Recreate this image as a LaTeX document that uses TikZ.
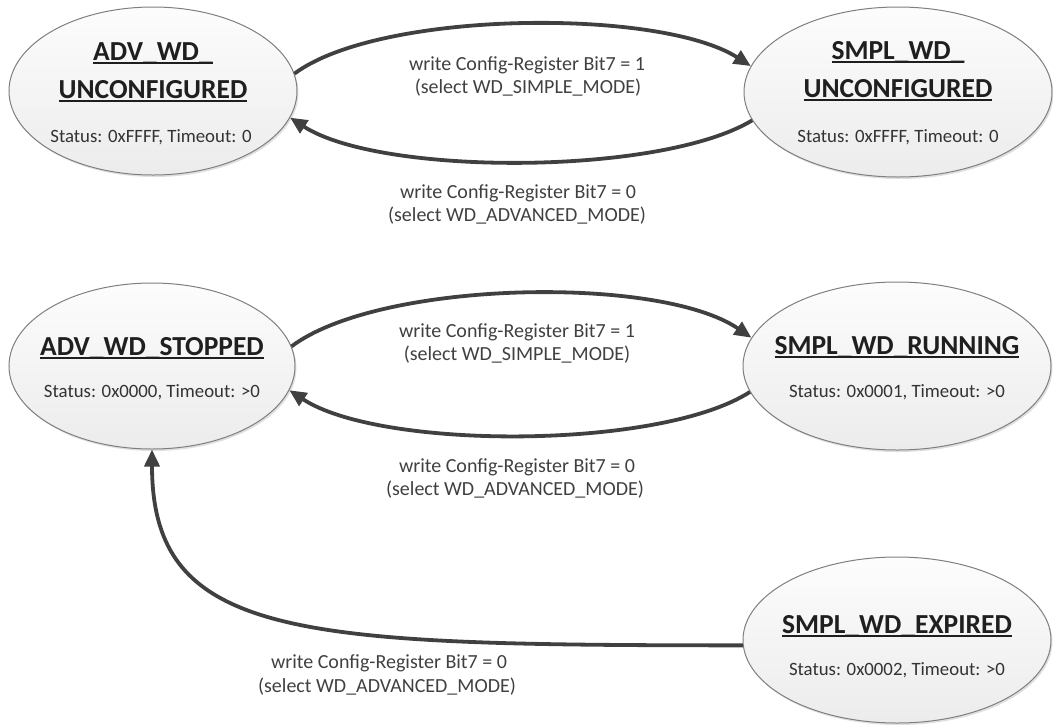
\documentclass[tikz,border=0pt]{standalone}
\usepackage{fontspec}
\setmainfont{Carlito}
\usetikzlibrary{arrows.meta,shapes.geometric,shadows}
\definecolor{arrowgray}{HTML}{404040}
\definecolor{edgegray}{HTML}{7F7F7F}
\newcommand\myul[1]{\setbox0\hbox{#1}\rlap{\rule[-4pt]{\wd0}{2pt}}\box0}
\begin{document}
\begin{tikzpicture}[x=1pt,y=-1pt,
  state/.style={ellipse, draw=edgegray, line width=1pt, top color=gray!2, bottom color=gray!15, inner sep=0pt,
    drop shadow={opacity=0.25,shadow xshift=1.5pt,shadow yshift=-2pt}},
  title/.style={font=\fontsize{27.5}{31}\selectfont\bfseries, text=black!88, anchor=base, inner sep=0pt},
  stat/.style={font=\fontsize{18.8}{23}\selectfont, text=black!80, anchor=base, inner sep=0pt},
  lbl/.style={font=\fontsize{20}{23}\selectfont, text=black!75, anchor=base, inner sep=0pt},
  trans/.style={draw=arrowgray, line width=3.8pt, -{Triangle[length=17pt,width=15pt]}}]
\useasboundingbox (0,0) rectangle (1053,724);

% states
\node[state, minimum width=288pt, minimum height=168pt] (A1) at (153,91) {};
\node[state, minimum width=308pt, minimum height=170pt] (A2) at (898,92) {};
\node[state, minimum width=286pt, minimum height=166pt] (A3) at (152,366) {};
\node[state, minimum width=308pt, minimum height=168pt] (A4) at (897,366) {};
\node[state, minimum width=308pt, minimum height=166pt] (A5) at (897,640) {};

% transitions
\draw[trans] (A1.7) .. controls (380,10) and (660,8) .. (A2.170);
\draw[trans] (A2.191) .. controls (660,176) and (380,176) .. (A1.-11);
\draw[trans] (A3.8) .. controls (380,280) and (660,275) .. (A4.169);
\draw[trans] (A4.190) .. controls (660,450) and (380,450) .. (A3.-10);
\draw[trans] (A5.182) .. controls (300,645) and (152,640) .. (A3.south);

% state texts
\node[title] (A1t1) at (153,60) {\myul{ADV\_WD\_}};
\node[title] (A1t2) at (153,98) {\myul{UNCONFIGURED}};
\node[stat] (A1s) at (151,142) {Status: 0xFFFF, Timeout: 0};

\node[title] (A2t1) at (898,59) {\myul{SMPL\_WD\_}};
\node[title] (A2t2) at (898,97) {\myul{UNCONFIGURED}};
\node[stat] (A2s) at (898,142) {Status: 0xFFFF, Timeout: 0};

\node[title] (A3t) at (152,355) {\myul{ADV\_WD\_STOPPED}};
\node[stat] (A3s) at (152,397) {Status: 0x0000, Timeout: >0};

\node[title] (A4t) at (897,354) {\myul{SMPL\_WD\_RUNNING}};
\node[stat] (A4s) at (897,397) {Status: 0x0001, Timeout: >0};

\node[title] (A5t) at (897,633) {\myul{SMPL\_WD\_EXPIRED}};
\node[stat] (A5s) at (897,675) {Status: 0x0002, Timeout: >0};

% transition labels
\node[lbl] (L1a) at (527,70) {write Config-Register Bit7 = 1};
\node[lbl] (L1b) at (528,93) {(select WD\_SIMPLE\_MODE)};
\node[lbl] (L2a) at (518,198) {write Config-Register Bit7 = 0};
\node[lbl] (L2b) at (517,221) {(select WD\_ADVANCED\_MODE)};
\node[lbl] (L3a) at (517,337) {write Config-Register Bit7 = 1};
\node[lbl] (L3b) at (517,360) {(select WD\_SIMPLE\_MODE)};
\node[lbl] (L4a) at (517,472) {write Config-Register Bit7 = 0};
\node[lbl] (L4b) at (515,495) {(select WD\_ADVANCED\_MODE)};
\node[lbl] (L5a) at (389,668) {write Config-Register Bit7 = 0};
\node[lbl] (L5b) at (387,692) {(select WD\_ADVANCED\_MODE)};
\end{tikzpicture}
\end{document}
